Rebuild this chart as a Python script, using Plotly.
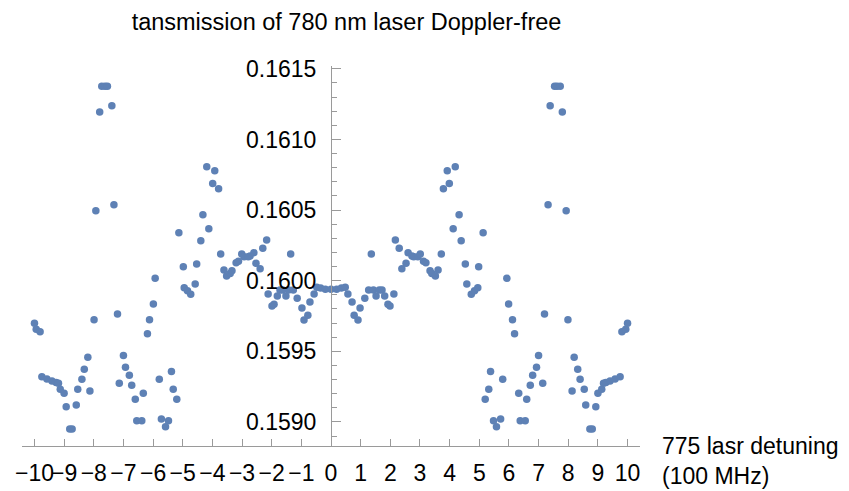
import plotly.graph_objects as go

# ---- data (left half, centre, right half) ----
x_left = [-10.00, -9.94, -9.81, -9.75, -9.58, -9.41, -9.27, -9.19, -9.13, -9.00,
          -8.93, -8.81, -8.73, -8.59, -8.54, -8.40, -8.32, -8.20, -8.13, -7.99,
          -7.93, -7.80, -7.73, -7.62, -7.54, -7.39, -7.32, -7.20, -7.14, -7.00,
          -6.93, -6.80, -6.72, -6.60, -6.55, -6.38, -6.33, -6.19, -6.12, -5.99,
          -5.93, -5.79, -5.72, -5.58, -5.48, -5.38, -5.32, -5.20, -5.13, -4.98,
          -4.95, -4.84, -4.73, -4.58, -4.53, -4.39, -4.32, -4.19, -4.12, -3.99,
          -3.92, -3.79, -3.72, -3.61, -3.52, -3.40, -3.34, -3.20, -3.12, -3.01,
          -2.93, -2.79, -2.73, -2.60, -2.53, -2.39, -2.30, -2.17, -2.12, -1.99,
          -1.92, -1.81, -1.72, -1.63, -1.52, -1.43, -1.36, -1.27, -1.14, -0.98,
          -0.91, -0.78, -0.71, -0.57, -0.48, -0.35, -0.19, 0.00]
y_left = [0.159699, 0.159656, 0.159639, 0.159321, 0.159305, 0.159291, 0.159279, 0.159274, 0.159232, 0.159204,
          0.159107, 0.158951, 0.158951, 0.159121, 0.159232, 0.159303, 0.159373, 0.159458, 0.159220, 0.159724,
          0.160495, 0.161195, 0.161377, 0.161377, 0.161377, 0.161238, 0.160537, 0.159764, 0.159274, 0.159470,
          0.159388, 0.159331, 0.159260, 0.159161, 0.159008, 0.159008, 0.159204, 0.159625, 0.159724, 0.159835,
          0.160017, 0.159303, 0.159022, 0.158967, 0.159008, 0.159358, 0.159232, 0.159161, 0.160339, 0.160099,
          0.159950, 0.159929, 0.159904, 0.159977, 0.160118, 0.160283, 0.160467, 0.160806, 0.160368, 0.160689,
          0.160778, 0.160651, 0.160189, 0.160076, 0.160033, 0.160052, 0.160071, 0.160127, 0.160137, 0.160189,
          0.160170, 0.160170, 0.160175, 0.160198, 0.160123, 0.160085, 0.160229, 0.160288, 0.159906, 0.159821,
          0.159833, 0.159892, 0.159934, 0.159934, 0.159892, 0.159934, 0.160189, 0.159934, 0.159876, 0.159807,
          0.159722, 0.159755, 0.159849, 0.159906, 0.159953, 0.159948, 0.159939, 0.159939]

x_right = [0.19, 0.35, 0.48, 0.57, 0.71, 0.78, 0.91, 0.98, 1.14, 1.27,
           1.36, 1.43, 1.52, 1.63, 1.72, 1.81, 1.92, 1.99, 2.12, 2.17,
           2.30, 2.39, 2.53, 2.60, 2.73, 2.79, 2.93, 3.01, 3.12, 3.20,
           3.34, 3.40, 3.52, 3.61, 3.72, 3.79, 3.92, 3.99, 4.12, 4.19,
           4.32, 4.39, 4.53, 4.58, 4.73, 4.84, 4.95, 4.98, 5.13, 5.20,
           5.32, 5.38, 5.48, 5.58, 5.72, 5.79, 5.93, 5.99, 6.12, 6.19,
           6.33, 6.38, 6.55, 6.60, 6.72, 6.80, 6.93, 7.00, 7.14, 7.20,
           7.32, 7.39, 7.54, 7.62, 7.73, 7.80, 7.93, 7.99, 8.13, 8.20,
           8.32, 8.40, 8.54, 8.59, 8.73, 8.81, 8.93, 9.00, 9.13, 9.19,
           9.27, 9.41, 9.58, 9.75, 9.81, 9.94, 10.00]
y_right = [0.159939, 0.159948, 0.159953, 0.159906, 0.159849, 0.159755, 0.159722, 0.159807, 0.159876, 0.159934,
           0.160189, 0.159934, 0.159892, 0.159934, 0.159934, 0.159892, 0.159833, 0.159821, 0.159906, 0.160288,
           0.160229, 0.160085, 0.160123, 0.160198, 0.160175, 0.160170, 0.160170, 0.160189, 0.160137, 0.160127,
           0.160071, 0.160052, 0.160033, 0.160076, 0.160189, 0.160651, 0.160778, 0.160689, 0.160368, 0.160806,
           0.160467, 0.160283, 0.160118, 0.159977, 0.159904, 0.159929, 0.159950, 0.160099, 0.160339, 0.159161,
           0.159232, 0.159358, 0.159008, 0.158967, 0.159022, 0.159303, 0.160017, 0.159835, 0.159724, 0.159625,
           0.159204, 0.159008, 0.159008, 0.159161, 0.159260, 0.159331, 0.159388, 0.159470, 0.159274, 0.159764,
           0.160537, 0.161238, 0.161377, 0.161377, 0.161377, 0.161195, 0.160495, 0.159724, 0.159220, 0.159458,
           0.159373, 0.159303, 0.159232, 0.159121, 0.158951, 0.158951, 0.159107, 0.159204, 0.159232, 0.159274,
           0.159279, 0.159291, 0.159305, 0.159321, 0.159639, 0.159656, 0.159699]

x_ticks = list(range(-10, 11))
y_ticks = [0.1590, 0.1595, 0.1600, 0.1605, 0.1610, 0.1615]
y_tick_text = ["0.1590", "0.1595", "0.1600", "0.1605", "0.1610", "0.1615"]

title_text = "tansmission of 780 nm laser Doppler-free"
x_label = "775 lasr detuning<br>(100 MHz)"

FONT = "Liberation Sans, Arial, sans-serif"
AXIS_COLOR = "#9a9a9a"
DOT_COLOR = "#5E81B5"

fig = go.Figure()
fig.add_trace(go.Scatter(
    x=x_left + x_right, y=y_left + y_right, mode="markers",
    marker=dict(size=7.5, color=DOT_COLOR, line=dict(width=0)),
    showlegend=False, hoverinfo="skip"))

fig.update_layout(
    width=849, height=491,
    margin=dict(l=22, r=209, t=66, b=45, pad=0, autoexpand=False),
    paper_bgcolor="white", plot_bgcolor="white",
    font=dict(family=FONT, size=23, color="black"),
    title=dict(text=title_text, x=346.5 / 849, xref="container", xanchor="center",
               y=1 - 22 / 491, yref="container", yanchor="middle",
               font=dict(family=FONT, size=23.5, color="black")),
    xaxis=dict(range=[-10.42, 10.42], tickmode="array", tickvals=x_ticks, tickangle=0,
               automargin=False,
               showgrid=False, zeroline=False, showline=True, linecolor=AXIS_COLOR, linewidth=1,
               ticks="inside", ticklen=7, tickcolor=AXIS_COLOR, tickwidth=1,
               tickfont=dict(family=FONT, size=23, color="black"), ticklabelstandoff=6),
    yaxis=dict(range=[0.15883, 0.16152], anchor="free", position=0.5, side="left",
               automargin=False,
               tickmode="array", tickvals=y_ticks, ticktext=y_tick_text,
               showgrid=False, zeroline=False, showline=True, linecolor=AXIS_COLOR, linewidth=1,
               ticks="inside", ticklen=9, tickcolor=AXIS_COLOR, tickwidth=1,
               minor=dict(dtick=0.0001, tick0=0.159, ticks="inside", ticklen=4.5,
                          tickcolor=AXIS_COLOR, tickwidth=1, showgrid=False),
               tickfont=dict(family=FONT, size=23, color="black"), ticklabelstandoff=10),
    annotations=[dict(text=x_label, xref="paper", yref="paper", x=1.032, y=-0.0395,
                      xanchor="left", yanchor="middle", align="left", showarrow=False,
                      font=dict(family=FONT, size=23, color="black"))],
)

fig.write_html("out.html")
